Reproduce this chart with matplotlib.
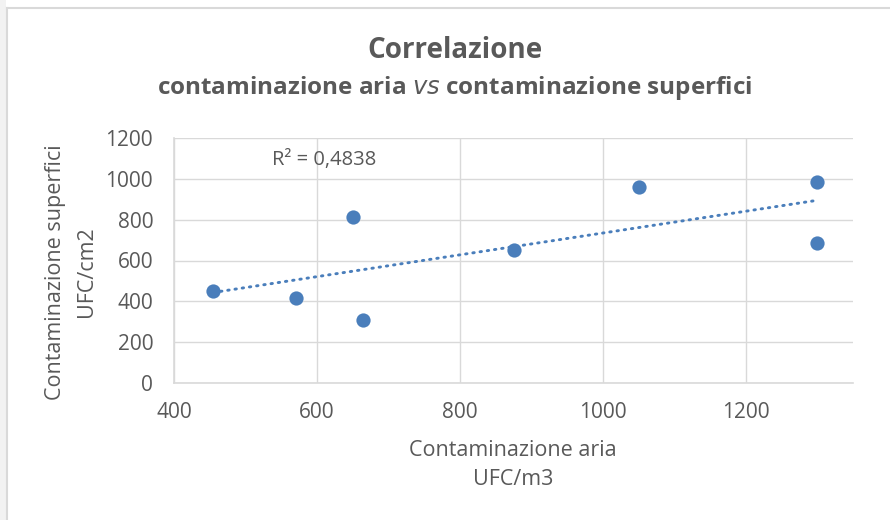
import numpy as np
import matplotlib
matplotlib.use("Agg")
import matplotlib.pyplot as plt
from matplotlib.patches import Rectangle

plt.rcParams["font.family"] = ["Open Sans", "DejaVu Sans"]

# air contamination (UFC/m3) vs surface contamination (UFC/cm2)
aria = [455, 570, 650, 665, 875, 1050, 1300, 1300]
superfici = [450, 415, 815, 310, 650, 960, 985, 685]
r2_label = "R² = 0,4838"

x_ticks = [400, 600, 800, 1000, 1200]
y_ticks = [0, 200, 400, 600, 800, 1000, 1200]

blue = "#4a7ebb"
grey_txt = "#595959"
grid_col = "#d9d9d9"

fig = plt.figure(figsize=(8.9, 5.2), dpi=100)
ax = fig.add_axes([174 / 890, 1 - 383 / 520, (853 - 174) / 890, (383 - 138) / 520])

# linear trendline from the data
x = np.array(aria, dtype=float)
y = np.array(superfici, dtype=float)
slope, icpt = np.polyfit(x, y, 1)
xs = np.array([x.min(), x.max()])
ax.plot(xs, slope * xs + icpt, color=blue, lw=2.1,
        linestyle=(0, (0.5, 2.0)), dash_capstyle="round", zorder=2)

ax.scatter(aria, superfici, s=105, color=blue, zorder=3, linewidths=0)

ax.set_xlim(400, 1350)
ax.set_ylim(0, 1200)
ax.set_xticks(x_ticks)
ax.set_yticks(y_ticks)
ax.grid(True, color=grid_col, lw=1.0)
ax.set_axisbelow(True)
for s in ["top", "right"]:
    ax.spines[s].set_visible(False)
for s in ["left", "bottom"]:
    ax.spines[s].set_color(grid_col)
    ax.spines[s].set_linewidth(1.2)
ax.tick_params(length=0, colors=grey_txt, labelsize=15, pad=14)
ax.tick_params(axis="y", pad=15)

ax.text(0.144, 0.91, r2_label, transform=ax.transAxes, ha="left", va="center",
        fontsize=14.5, color=grey_txt)

fig.text(455 / 890, 1 - 50 / 520, "Correlazione", ha="center", va="center",
         fontsize=20, fontweight="bold", color=grey_txt)
fig.text(455 / 890, 1 - 88 / 520,
         "contaminazione aria $\\mathbf{\\mathit{vs}}$ contaminazione superfici",
         ha="center", va="center", fontsize=17.5, fontweight="bold", color=grey_txt)

fig.text(513 / 890, 1 - 465 / 520, "Contaminazione aria\nUFC/m3", ha="center",
         va="center", fontsize=15.5, color=grey_txt, linespacing=1.45)
fig.text(71 / 890, 1 - 272 / 520, "Contaminazione superfici\nUFC/cm2", ha="center",
         va="center", rotation=90, fontsize=15.5, color=grey_txt, linespacing=1.65)

# chart frame (cropped screenshot: only left and top edges visible)
fig.add_artist(plt.Line2D([7 / 890, 7 / 890], [0, 1 - 8 / 520],
                          transform=fig.transFigure, color=grid_col, lw=1.5))
fig.add_artist(plt.Line2D([7 / 890, 1], [1 - 8 / 520, 1 - 8 / 520],
                          transform=fig.transFigure, color=grid_col, lw=1.5))
fig.add_artist(Rectangle((0, 0), 6 / 890, 1, transform=fig.transFigure,
                         facecolor="#f2f2f2", edgecolor="none"))

fig.savefig("out.png", dpi=100)
